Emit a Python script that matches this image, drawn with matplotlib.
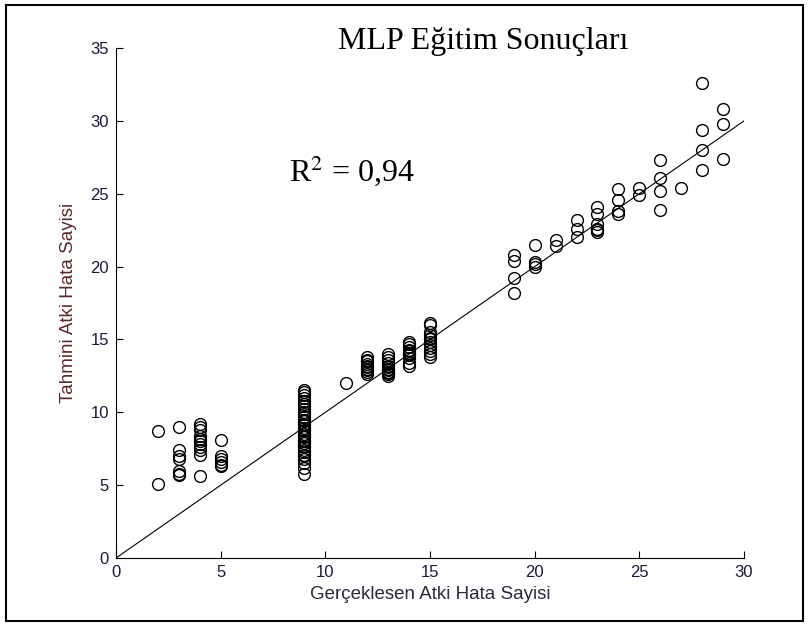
import numpy as np
import matplotlib.pyplot as plt
from matplotlib.patches import Rectangle

# gerceklesen (x) ve tahmini (y) atki hata sayilari, gruplar halinde
x2 = [2, 2]
y2 = [8.7, 5.1]
x3 = [3] * 7
y3 = [9.0, 7.4, 7.0, 6.8, 6.0, 5.8, 5.7]
x4 = [4] * 11
y4 = [9.2, 9.0, 8.8, 8.4, 8.2, 8.0, 7.8, 7.6, 7.4, 7.1, 5.6]
x5 = [5] * 6
y5 = [8.1, 7.0, 6.8, 6.6, 6.4, 6.3]
x9 = [9] * 34
y9 = [5.8, 6.2, 6.5, 6.8, 7.0, 7.1, 7.3, 7.4, 7.6, 7.7, 7.9, 8.0, 8.1, 8.3,
      8.4, 8.5, 8.7, 8.8, 8.9, 9.1, 9.2, 9.4, 9.5, 9.7, 9.9, 10.0, 10.2,
      10.4, 10.6, 10.8, 11.0, 11.2, 11.4, 11.5]
x11 = [11]
y11 = [12.0]
x12 = [12] * 10
y12 = [12.6, 12.8, 12.9, 13.0, 13.1, 13.2, 13.3, 13.5, 13.6, 13.8]
x13 = [13] * 12
y13 = [12.5, 12.6, 12.7, 12.8, 12.9, 13.0, 13.1, 13.2, 13.4, 13.6, 13.8, 14.0]
x14 = [14] * 11
y14 = [13.2, 13.4, 13.7, 13.9, 14.0, 14.1, 14.2, 14.3, 14.5, 14.7, 14.8]
x15 = [15] * 12
y15 = [13.8, 14.0, 14.2, 14.4, 14.6, 14.8, 15.0, 15.1, 15.3, 15.5, 16.0, 16.1]
x_hi = [19, 19, 19, 19, 20, 20, 20, 20, 21, 21, 22, 22, 22,
        23, 23, 23, 23, 23, 23, 24, 24, 24, 24, 25, 25,
        26, 26, 26, 26, 27, 28, 28, 28, 28, 29, 29, 29]
y_hi = [20.8, 20.4, 19.2, 18.2, 21.5, 20.3, 20.2, 20.0, 21.8, 21.4, 23.2, 22.6, 22.0,
        24.1, 23.6, 22.9, 22.6, 22.5, 22.4, 25.3, 24.6, 23.8, 23.6, 25.4, 24.9,
        27.3, 26.1, 25.2, 23.9, 25.4, 32.6, 29.4, 28.0, 26.6, 30.8, 29.8, 27.4]

gercek = x2 + x3 + x4 + x5 + x9 + x11 + x12 + x13 + x14 + x15 + x_hi
tahmin = y2 + y3 + y4 + y5 + y9 + y11 + y12 + y13 + y14 + y15 + y_hi

plt.rcParams['font.family'] = 'Liberation Sans'
plt.rcParams['mathtext.fontset'] = 'stix'

fig = plt.figure(figsize=(8.09, 6.26), dpi=100)
ax = fig.add_axes([0.1434, 0.1086, 0.7763, 0.8147])

ax.plot([0, 30], [0, 30], color='black', lw=0.8)
ax.plot(gercek, tahmin, 'o', mfc='none', mec='black', ms=8.5, mew=1.0)

ax.set_xlim(0, 30)
ax.set_ylim(0, 35)
ax.set_xticks([0, 5, 10, 15, 20, 25, 30])
ax.set_yticks([0, 5, 10, 15, 20, 25, 30, 35])
ax.spines['top'].set_visible(False)
ax.spines['right'].set_visible(False)
ax.tick_params(direction='in', length=5, labelsize=12, labelcolor='#1a1a3a', pad=5)

ax.set_xlabel('Gerçeklesen Atki Hata Sayisi', fontsize=13.5, color='#2a2a3a',
              labelpad=4)
ax.set_ylabel('Tahmini Atki Hata Sayisi', fontsize=13.5, color='#5a2a2a',
              labelpad=10)

fig.text(0.597, 0.933, 'MLP Eğitim Sonuçları', family='Liberation Serif',
         fontsize=23, ha='center', va='center')
ax.text(8.25, 26.6, 'R$^2$ = 0,94', family='Liberation Serif', fontsize=23,
        ha='left', va='center')

fig.patches.append(Rectangle((0.007, 0.008), 0.985, 0.984, transform=fig.transFigure,
                             fill=False, edgecolor='black', lw=1.5))

fig.savefig('out.png', dpi=100)
